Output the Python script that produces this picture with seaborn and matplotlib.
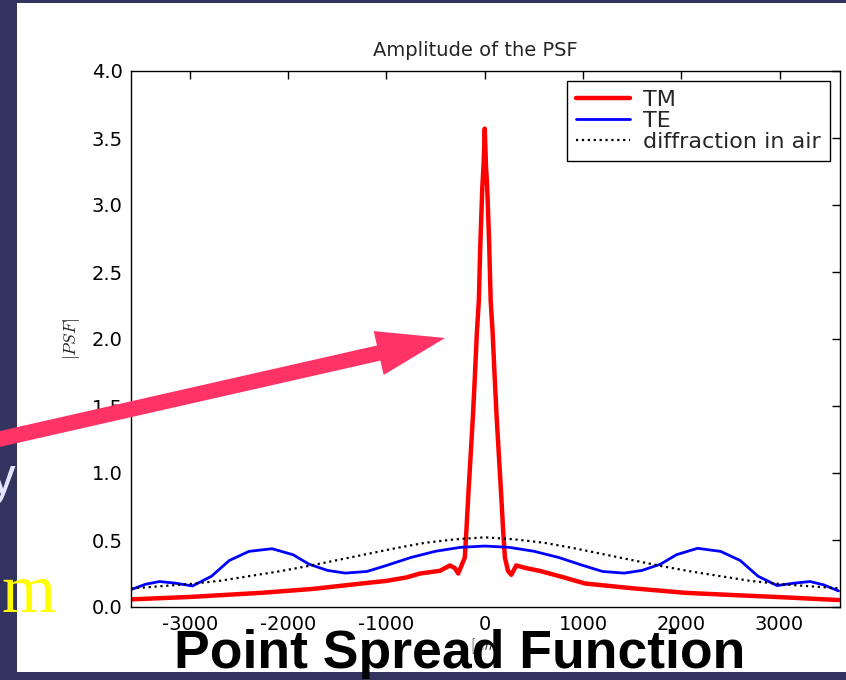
import matplotlib
matplotlib.use("Agg")
import matplotlib.pyplot as plt
import seaborn as sns
import pandas as pd
from matplotlib.patches import Rectangle, FancyArrow

# ---------------- data ----------------
x_tm = [-3600, -3000, -2270, -1750, -1256, -1000, -800, -658, -456, -355, -304,
        -270, -236, -203, -187, -167, -147, -120, -100, -80, -60, -45, -25, -12,
        0, 12, 25, 45, 60, 80, 100, 120, 147, 167, 187, 205, 236, 270, 320, 422,
        557, 760, 1023, 1500, 2036, 2500, 3050, 3600]
tm = [0.057, 0.075, 0.106, 0.135, 0.175, 0.195, 0.22, 0.25, 0.27, 0.31, 0.29,
      0.25, 0.31, 0.37, 0.57, 0.84, 1.09, 1.43, 1.73, 2.05, 2.29, 2.71, 3.13, 3.3,
      3.57, 3.3, 3.13, 2.71, 2.29, 2.05, 1.73, 1.43, 1.09, 0.84, 0.57, 0.37, 0.27,
      0.24, 0.31, 0.29, 0.27, 0.23, 0.175, 0.14, 0.106, 0.09, 0.072, 0.052]

x_te = [-3600, -3450, -3310, -3150, -2975, -2780, -2600, -2400, -2165, -1950,
        -1790, -1600, -1420, -1200, -1000, -750, -500, -250, 0,
        250, 500, 750, 1000, 1200, 1420, 1600, 1790, 1950, 2165, 2400, 2600,
        2780, 2975, 3150, 3310, 3450, 3600]
te = [0.13, 0.17, 0.19, 0.178, 0.157, 0.23, 0.347, 0.415, 0.435, 0.39,
      0.32, 0.273, 0.253, 0.265, 0.31, 0.37, 0.416, 0.445, 0.455,
      0.445, 0.416, 0.37, 0.31, 0.265, 0.253, 0.273, 0.32, 0.39, 0.438, 0.415,
      0.347, 0.23, 0.16, 0.178, 0.19, 0.165, 0.12]

x_air = [-3600, -3300, -3000, -2700, -2400, -2100, -1800, -1500, -1200, -900,
         -600, -300, 0, 300, 600, 900, 1200, 1500, 1800, 2100, 2400, 2700,
         3000, 3300, 3600]
air = [0.138, 0.155, 0.172, 0.195, 0.23, 0.265, 0.305, 0.35, 0.395, 0.44,
       0.48, 0.505, 0.52, 0.505, 0.48, 0.44, 0.395, 0.35, 0.305, 0.265, 0.23,
       0.195, 0.172, 0.155, 0.14]

x_ticks = [-3000, -2000, -1000, 0, 1000, 2000, 3000]
y_ticks = [0.0, 0.5, 1.0, 1.5, 2.0, 2.5, 3.0, 3.5, 4.0]

# ---------------- style ----------------
sns.set_theme(style="white")
plt.rcParams["font.family"] = ["DejaVu Sans"]
plt.rcParams["axes.unicode_minus"] = False
plt.rcParams["mathtext.fontset"] = "cm"

W, H = 846, 680
fig = plt.figure(figsize=(W / 100, H / 100), dpi=100, facecolor="#33335f")

# white slide panel
panel = Rectangle((17 / W, 8 / H), 1 - 17 / W, 669 / H, transform=fig.transFigure,
                  facecolor="white", edgecolor="none", zorder=0.5)
fig.add_artist(panel)

# slide text fragments beside the chart
fig.text(16 / W, (H - 494) / H, "y", ha="right", va="baseline", color="#e4e4ff",
         fontsize=37, family=["Liberation Sans", "DejaVu Sans"], zorder=0.3)
fig.text(56 / W, (H - 612) / H, "m", ha="right", va="baseline", color="#ffff00",
         fontsize=50, family=["Liberation Serif", "DejaVu Serif"], zorder=0.8)

ax = fig.add_axes([131 / W, (H - 607) / H, (839.5 - 131) / W, (607 - 71) / H])
ax.set_zorder(1)
ax.set_facecolor("white")

df_tm = pd.DataFrame({"x": x_tm, "y": tm})
df_te = pd.DataFrame({"x": x_te, "y": te})
df_air = pd.DataFrame({"x": x_air, "y": air})

sns.lineplot(data=df_tm, x="x", y="y", ax=ax, color="red", lw=3.2, label="TM",
             estimator=None)
sns.lineplot(data=df_te, x="x", y="y", ax=ax, color="blue", lw=2.0, label="TE",
             estimator=None)
sns.lineplot(data=df_air, x="x", y="y", ax=ax, color="black", lw=1.6, ls=":",
             label="diffraction in air", estimator=None)

ax.set_xlim(-3600, 3610)
ax.set_ylim(0, 4.0)
ax.set_xticks(x_ticks)
ax.set_yticks(y_ticks)
ax.set_yticklabels([f"{v:.1f}" for v in y_ticks])
ax.tick_params(direction="in", length=6, width=1, top=True, right=True,
               labelsize=14, pad=6, colors="black")
for s in ax.spines.values():
    s.set_visible(True)
    s.set_color("black")
    s.set_linewidth(1)

ax.set_title("Amplitude of the PSF", fontsize=14, pad=11, x=0.4855)
ax.set_ylabel(r"$|PSF|$", fontsize=12.5)
ax.yaxis.set_label_coords(-0.069, 0.5)
ax.set_xlabel(r"$[nm]$", fontsize=11)
ax.xaxis.set_label_coords(0.5, -0.054)

leg = ax.legend(loc="upper right", fontsize=16, frameon=True, fancybox=False,
                edgecolor="black", framealpha=1, borderaxespad=0.45,
                handlelength=2.4, labelspacing=0.05, borderpad=0.4,
                handletextpad=0.6)
leg.get_frame().set_linewidth(1)

# pink arrow
arrow = FancyArrow(-0.2, (H - 443.5) / 100, (445 + 20) / 100, (443.5 - 338) / 100,
                   width=0.155, head_width=0.45, head_length=0.68,
                   length_includes_head=True, color="#ff3366", lw=0,
                   transform=fig.dpi_scale_trans, zorder=5)
fig.add_artist(arrow)

fig.text(460 / W, (H - 668) / H, "Point Spread Function", ha="center",
         va="baseline", fontsize=38.5, fontweight="bold",
         family=["Liberation Sans", "DejaVu Sans"],
         color="black", zorder=10)

fig.savefig("out.png", dpi=100, facecolor=fig.get_facecolor())
